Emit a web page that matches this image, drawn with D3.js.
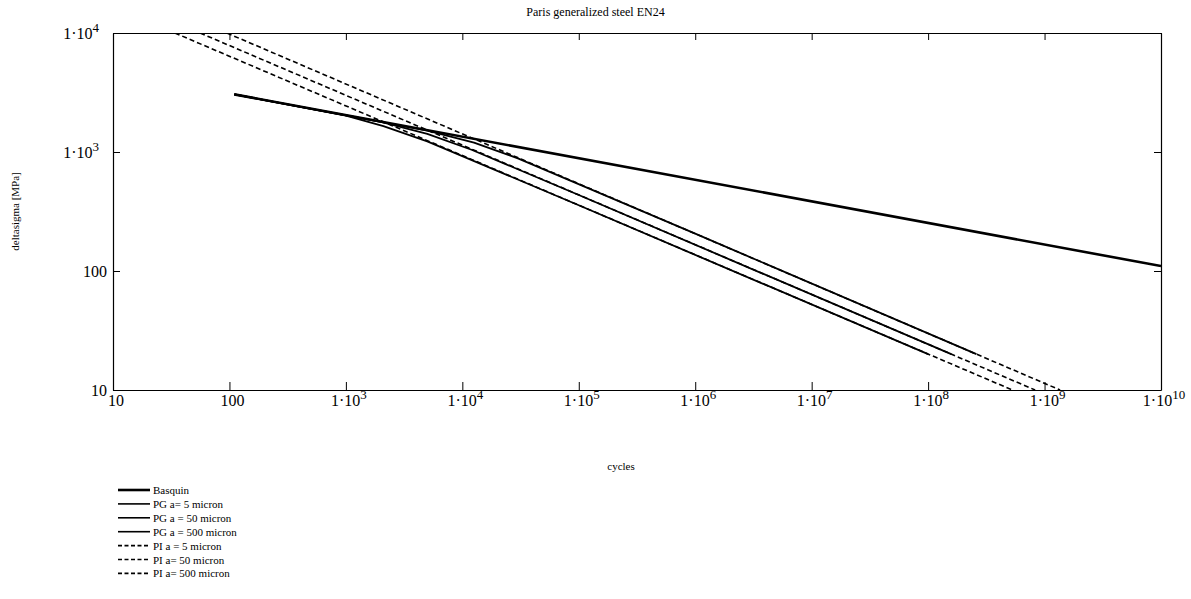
<!DOCTYPE html>
<html>
<head>
<meta charset="utf-8">
<script src="https://cdn.jsdelivr.net/npm/d3@7"></script>
<style>
  html, body { margin: 0; padding: 0; background: #fff; }
  svg { display: block; font-family: "Liberation Serif", "Times New Roman", serif; }
</style>
</head>
<body>
<svg id="chart" width="1191" height="599"></svg>
<script>
// ---------- data ----------
const titleText = "Paris generalized steel EN24";
const xLabel = "cycles";
const yLabel = "deltasigma [MPa]";

const xTicks = [10, 100, 1e3, 1e4, 1e5, 1e6, 1e7, 1e8, 1e9, 1e10];
const xTickBase = ["10", "100", "1\u00B710", "1\u00B710", "1\u00B710", "1\u00B710", "1\u00B710", "1\u00B710", "1\u00B710", "1\u00B710"];
const xTickExp  = ["", "", "3", "4", "5", "6", "7", "8", "9", "10"];

const yTicks = [10, 100, 1e3, 1e4];
const yTickBase = ["10", "100", "1\u00B710", "1\u00B710"];
const yTickExp  = ["", "", "3", "4"];

const seriesNames = ["Basquin", "PG a= 5 micron", "PG a = 50 micron", "PG a = 500 micron",
                     "PI a = 5 micron", "PI a= 50 micron", "PI a= 500 micron"];

// Basquin curve
const basquinN = [110, 1e10];
const basquinS = [3050, 110];

// Paris generalized (solid)
const pg5N   = [110, 5000, 12600, 30000, 1e6, 2.6e8];
const pg5S   = [3050, 1515, 1200, 885, 206, 20];
const pg50N  = [110, 2000, 5000, 12000, 1e5, 1.58e8];
const pg50S  = [3050, 1790, 1420, 1045, 435, 20];
const pg500N = [110, 1000, 2100, 5000, 1e5, 1e8];
const pg500S = [3050, 2020, 1650, 1230, 357, 20];

// Paris integrated (dashed)
const pi5N   = [95, 1.36e9];
const pi5S   = [1e4, 10];
const pi50N  = [56, 8.3e8];
const pi50S  = [1e4, 10];
const pi500N = [34, 5.3e8];
const pi500S = [1e4, 10];

// ---------- layout ----------
const plotL = 113, plotR = 1161, plotT = 33, plotB = 390;

const svg = d3.select("#chart");
const x = d3.scaleLog().domain([10, 1e10]).range([plotL, plotR]);
const y = d3.scaleLog().domain([10, 1e4]).range([plotB, plotT]);

const zip = (ns, ss) => ns.map((n, i) => ({ n: n, s: ss[i] }));
const series = [
  { name: seriesNames[0], pts: zip(basquinN, basquinS), w: 2.6, dash: null },
  { name: seriesNames[1], pts: zip(pg5N, pg5S), w: 1.8, dash: null },
  { name: seriesNames[2], pts: zip(pg50N, pg50S), w: 1.8, dash: null },
  { name: seriesNames[3], pts: zip(pg500N, pg500S), w: 1.8, dash: null },
  { name: seriesNames[4], pts: zip(pi5N, pi5S), w: 1.6, dash: "5,3" },
  { name: seriesNames[5], pts: zip(pi50N, pi50S), w: 1.6, dash: "5,3" },
  { name: seriesNames[6], pts: zip(pi500N, pi500S), w: 1.6, dash: "5,3" }
];

svg.append("defs").append("clipPath").attr("id", "clip")
  .append("rect").attr("x", plotL).attr("y", plotT)
  .attr("width", plotR - plotL).attr("height", plotB - plotT);

// title
svg.append("text").attr("x", 595.5).attr("y", 16).attr("text-anchor", "middle")
  .attr("font-size", 12).attr("fill", "#000").text(titleText);

// axes with d3 axis generators (inner ticks)
const axB = d3.axisBottom(x).tickValues(xTicks).tickSize(-8).tickSizeOuter(0).tickFormat("");
const axT = d3.axisTop(x).tickValues(xTicks).tickSize(-7).tickSizeOuter(0).tickFormat("");
const axL = d3.axisLeft(y).tickValues(yTicks).tickSize(-7).tickSizeOuter(0).tickFormat("");
const axR = d3.axisRight(y).tickValues(yTicks).tickSize(-7).tickSizeOuter(0).tickFormat("");

function styleAxis(g) {
  g.selectAll("path.domain").attr("stroke", "#000").attr("stroke-width", 1.2);
  g.selectAll(".tick line").attr("stroke", "#000").attr("stroke-width", 1);
}
svg.append("g").attr("transform", `translate(0,${plotB})`).call(axB).call(styleAxis);
svg.append("g").attr("transform", `translate(0,${plotT})`).call(axT).call(styleAxis);
svg.append("g").attr("transform", `translate(${plotL},0)`).call(axL).call(styleAxis);
svg.append("g").attr("transform", `translate(${plotR},0)`).call(axR).call(styleAxis);

// tick labels
function label(g, px, py, base, exp, anchor) {
  const t = g.append("text").attr("x", px).attr("y", py).attr("text-anchor", anchor)
    .attr("font-size", 16).attr("fill", "#000");
  t.append("tspan").text(base);
  if (exp) t.append("tspan").attr("font-size", 13).attr("dy", -7).text(exp);
}
const gLab = svg.append("g");
xTicks.forEach((v, i) => label(gLab, x(v) + 3, plotB + 16, xTickBase[i], xTickExp[i], "middle"));
yTicks.forEach((v, i) => label(gLab, yTickExp[i] ? 99 : 107, y(v) + 6, yTickBase[i], yTickExp[i], "end"));

// axis titles
svg.append("text").attr("x", 621).attr("y", 470).attr("text-anchor", "middle")
  .attr("font-size", 11).text(xLabel);
svg.append("text").attr("transform", `translate(19,${(plotT + plotB) / 2}) rotate(-90)`)
  .attr("text-anchor", "middle").attr("font-size", 11).text(yLabel);

// series
const line = d3.line().x(d => x(d.n)).y(d => y(d.s));
const gS = svg.append("g").attr("clip-path", "url(#clip)");
const order = [4, 5, 6, 1, 2, 3, 0];
order.forEach(i => {
  const s = series[i];
  gS.append("path").datum(s.pts).attr("d", line)
    .attr("fill", "none").attr("stroke", "#000").attr("stroke-width", s.w)
    .attr("stroke-dasharray", s.dash).attr("stroke-linejoin", "round");
});

// legend
const gLeg = svg.append("g");
const legY0 = 490, legDy = 13.9;
series.forEach((s, i) => {
  const yy = legY0 + i * legDy;
  gLeg.append("line").attr("x1", 118).attr("x2", 150).attr("y1", yy).attr("y2", yy)
    .attr("stroke", "#000").attr("stroke-width", i === 0 ? 2.6 : 1.6)
    .attr("stroke-dasharray", s.dash ? "4,2.5" : null);
  gLeg.append("text").attr("x", 153).attr("y", yy + 4).attr("font-size", 11).text(s.name);
});
</script>
</body>
</html>
